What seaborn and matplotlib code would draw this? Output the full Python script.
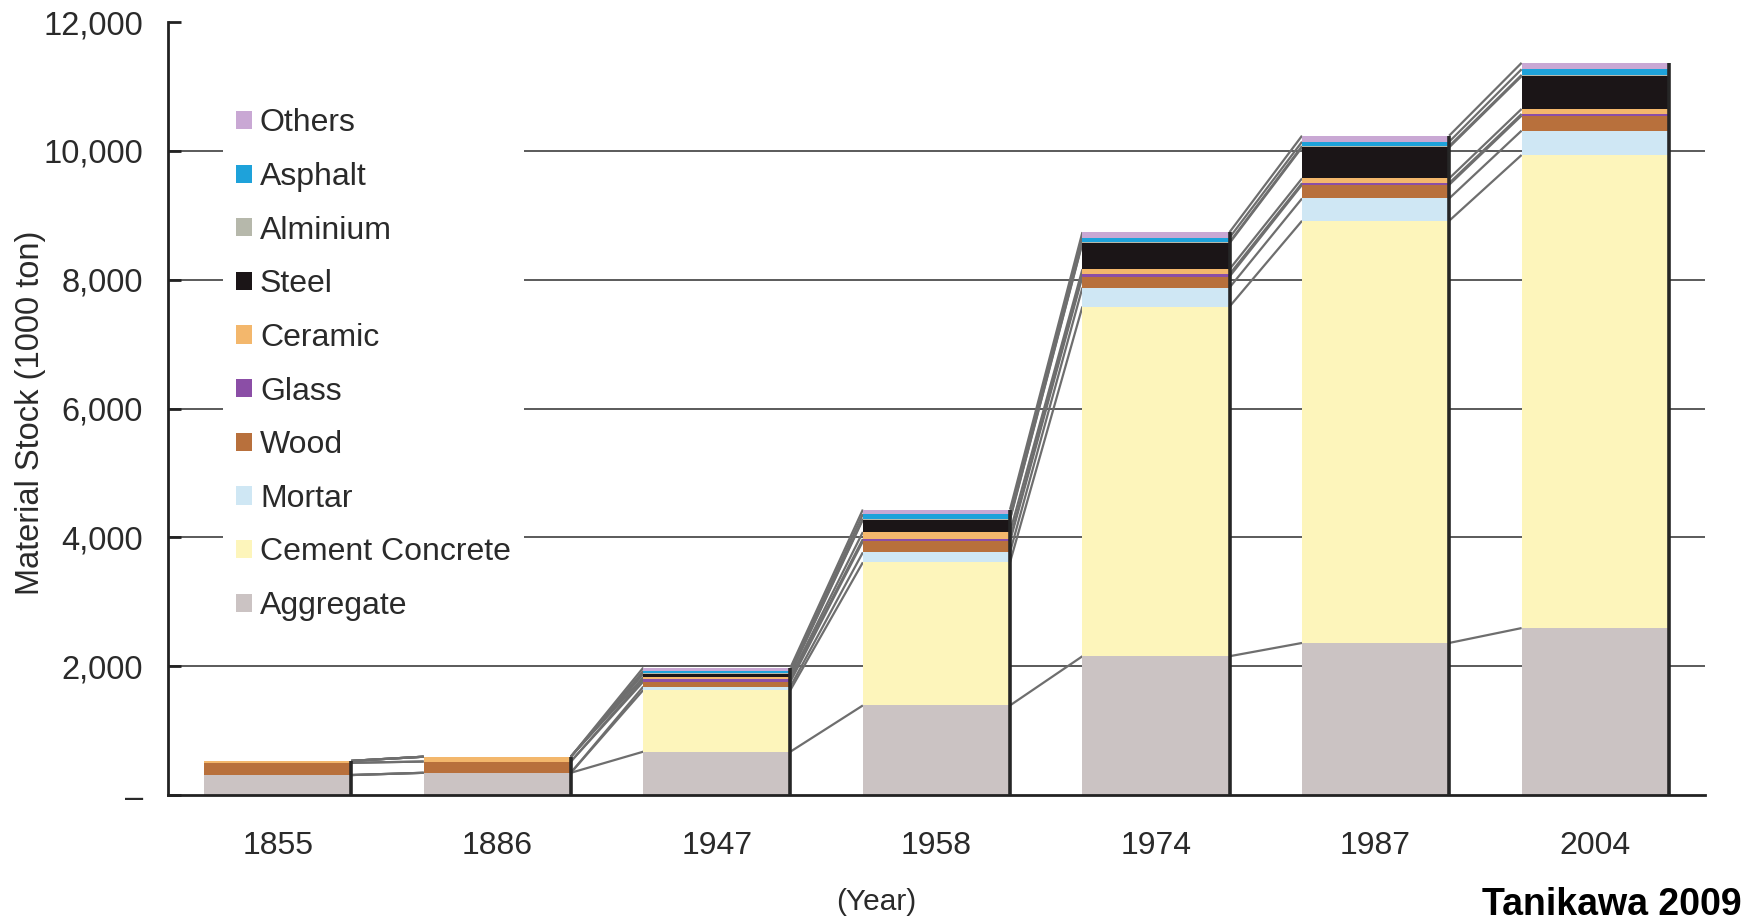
import numpy as np
import pandas as pd
import seaborn as sns
from matplotlib import pyplot as plt
from matplotlib.patches import Patch
from matplotlib.ticker import FuncFormatter, FixedLocator

# data (1000 ton), stacked bottom -> top
years = ['1855', '1886', '1947', '1958', '1974', '1987', '2004']
aggregate = [310, 345, 673, 1391, 2155, 2361, 2592]
cement = [0, 0, 958, 2222, 5430, 6555, 7346]
mortar = [0, 0, 52, 155, 295, 347, 378]
wood = [190, 175, 78, 171, 171, 212, 233]
glass = [0, 0, 36, 36, 36, 26, 26]
ceramic = [30, 75, 31, 109, 78, 73, 78]
steel = [0, 0, 52, 192, 405, 482, 508]
alminium = [0, 0, 10, 15, 15, 20, 20]
asphalt = [0, 0, 36, 70, 70, 67, 88]
others = [0, 0, 52, 71, 85, 94, 99]

materials = ['Aggregate', 'Cement Concrete', 'Mortar', 'Wood', 'Glass',
             'Ceramic', 'Steel', 'Alminium', 'Asphalt', 'Others']
values = [aggregate, cement, mortar, wood, glass, ceramic, steel, alminium, asphalt, others]
colors = ['#cbc3c3', '#fdf5bb', '#cfe7f4', '#b8703c', '#8b4ea6',
          '#f3b76c', '#1b1517', '#b6b8ab', '#1ea2da', '#c9a8d4']

rows = []
for m, v in zip(materials, values):
    for y, val in zip(years, v):
        rows.append({'year': y, 'material': m, 'value': val})
df = pd.DataFrame(rows)
df['cum'] = df.groupby('year')['value'].cumsum()

sns.set_style('white')
plt.rcParams['font.family'] = ['Liberation Sans', 'DejaVu Sans']
text_color = '#2a2a2a'

fig = plt.figure(figsize=(17.51, 9.24), dpi=100)
ax = fig.add_axes([0.0959, 0.1396, 0.9737 - 0.0959, 0.976 - 0.1396])

bar_w = 0.67
# draw cumulative bars from the top layer down so lower layers cover them
for m, c in zip(materials[::-1], colors[::-1]):
    sub = df[df['material'] == m]
    sns.barplot(data=sub, x='year', y='cum', order=years, color=c, saturation=1,
                width=bar_w, errorbar=None, linewidth=0, ax=ax, zorder=2)

# connector lines between layer boundaries of neighbouring bars
cum = np.cumsum(np.array(values), axis=0)
for level in cum:
    for i in range(len(years) - 1):
        ax.plot([i + bar_w / 2, i + 1 - bar_w / 2], [level[i], level[i + 1]],
                color='#6e6e6e', lw=1.6, zorder=1, solid_capstyle='butt')

# dark right edge of each bar
totals = cum[-1]
ax.vlines(np.arange(len(years)) + bar_w / 2, 0, totals, color='#262626', lw=2.6, zorder=3)

ax.set_xlim(-0.5, len(years) - 0.5)
ax.set_ylim(0, 12000)
ax.set_yticks(np.arange(0, 12001, 2000))
ax.yaxis.set_major_formatter(FuncFormatter(lambda v, p: '\u2013' if v == 0 else f'{v:,.0f}'))
ax.grid(axis='y', color='#5a5a5a', lw=1.4, zorder=0)
ax.set_axisbelow(True)
gl = ax.yaxis.get_gridlines()
gl[0].set_visible(False)
gl[-1].set_visible(False)

ax.xaxis.set_minor_locator(FixedLocator(np.arange(-0.5, len(years), 1.0)))
ax.tick_params(axis='x', which='major', length=0, pad=26, labelsize=23, labelcolor=text_color)
ax.tick_params(axis='x', which='minor', direction='in', length=8, width=2, color='#222222')
ax.tick_params(axis='y', direction='in', length=9, width=2, pad=18, labelsize=23.5,
               labelcolor=text_color, left=True, color='#222222')

sns.despine(ax=ax)
for s in ['left', 'bottom']:
    ax.spines[s].set_color('#222222')
    ax.spines[s].set_linewidth(2)

ax.set_xlabel('(Year)', fontsize=21.5, color=text_color)
ax.xaxis.set_label_coords(0.461, -0.12)
ax.set_ylabel('Material Stock (1000 ton)', fontsize=23.5, color=text_color)
ax.yaxis.set_label_coords(-0.079, 0.494)

handles = [Patch(facecolor=c, edgecolor='none', label=m)
           for m, c in zip(materials[::-1], colors[::-1])]
leg = ax.legend(handles=handles, loc='upper left', bbox_to_anchor=(0.036, 0.905),
                frameon=True, facecolor='white', edgecolor='none', framealpha=1,
                fontsize=23, labelspacing=0.74, handlelength=0.5, handleheight=0.5,
                handletextpad=0.25, borderpad=0.4, borderaxespad=0)
for t in leg.get_texts():
    t.set_color(text_color)
leg.set_zorder(5)

fig.text(0.9945, 0.021, 'Tanikawa 2009', ha='right', va='center', fontsize=27,
         fontweight='bold', color='black')

fig.savefig('out.png', dpi=100)
